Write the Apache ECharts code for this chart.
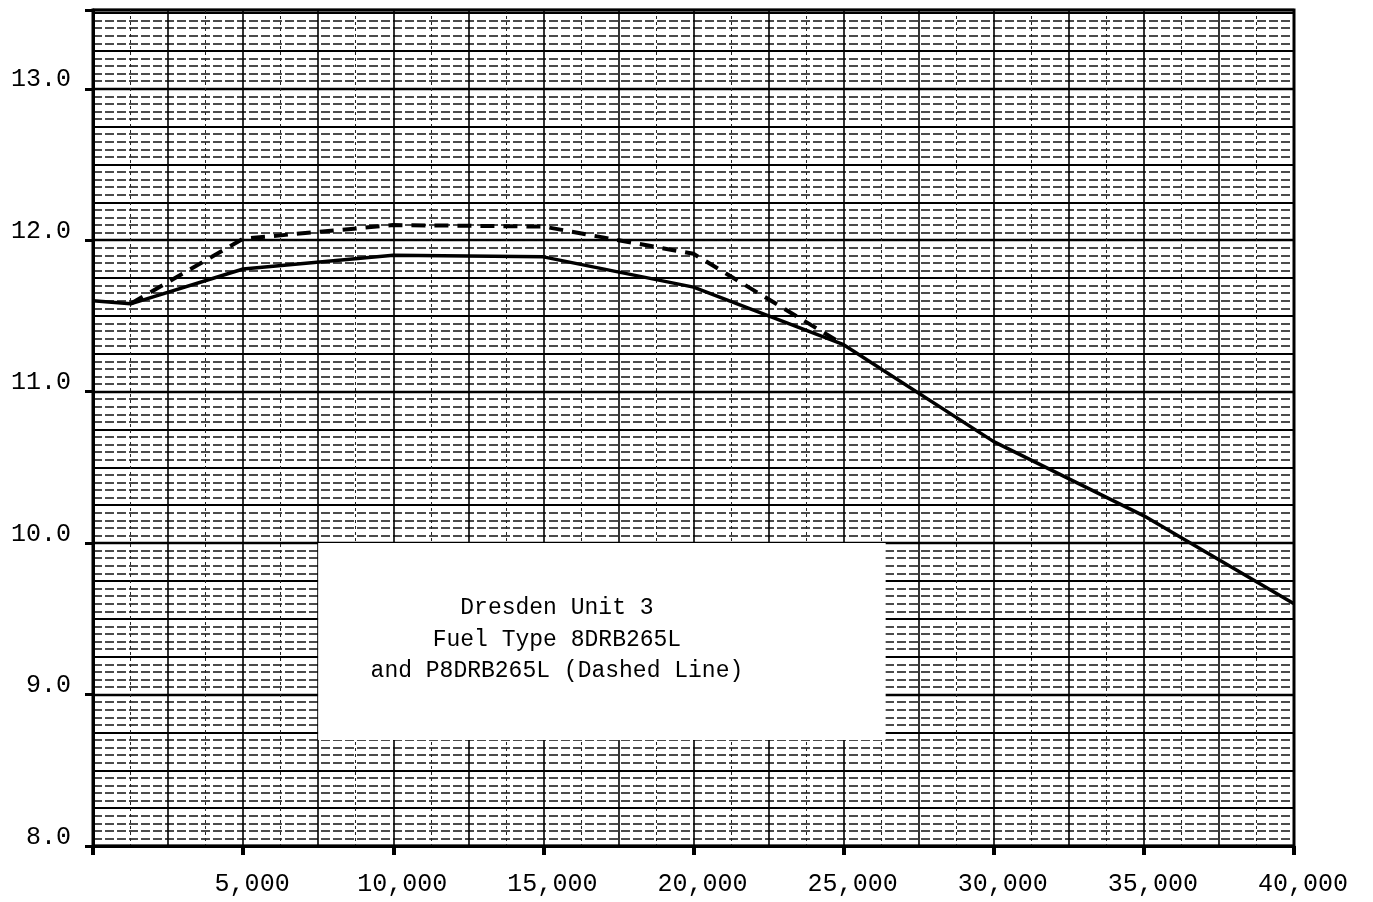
<!DOCTYPE html>
<html>
<head>
<meta charset="utf-8">
<script src="https://cdn.jsdelivr.net/npm/echarts@6/dist/echarts.min.js"></script>
<style>
  html, body { margin: 0; padding: 0; background: #fff; }
  #chart { width: 1373px; height: 902px; }
</style>
</head>
<body>
<div id="chart"></div>
<script>
// ---- data ----
const solidX = [0, 1250, 5000, 10000, 15000, 20000, 25000, 30000, 35000, 40000];
const solidY = [11.60, 11.58, 11.81, 11.90, 11.89, 11.69, 11.31, 10.67, 10.18, 9.60];
const dashedX = [1250, 5000, 10000, 15000, 20000, 25000];
const dashedY = [11.58, 12.01, 12.10, 12.09, 11.91, 11.31];
const xTickValues = [5000, 10000, 15000, 20000, 25000, 30000, 35000, 40000];
const yTickValues = [8, 9, 10, 11, 12, 13];
const noteLines = ['Dresden Unit 3', 'Fuel Type 8DRB265L', 'and P8DRB265L (Dashed Line)'];

// ---- layout / annotation settings ----
const X_MIN = 0, X_MAX = 40000;
const Y_MIN = 8, Y_MAX = 13.52;
const noteBox = { x0: 7500, x1: 26400, y0: 8.70, y1: 10.0 };
const MONO = '"Liberation Mono", "DejaVu Sans Mono", monospace';

const chart = echarts.init(document.getElementById('chart'), null, { renderer: 'canvas' });

function pairs(xs, ys) { return xs.map((x, i) => [x, ys[i]]); }

const option = {
  backgroundColor: '#fff',
  animation: false,
  grid: {
    left: 93, right: 79, top: 10, bottom: 56,
    containLabel: false,
    outerBoundsMode: 'none',
    show: true,
    borderColor: '#000',
    borderWidth: 3,
    backgroundColor: '#fff'
  },
  xAxis: [
    {
      type: 'value', min: X_MIN, max: X_MAX, interval: 5000,
      position: 'bottom',
      axisLine: { show: true, lineStyle: { color: '#000', width: 3 } },
      axisTick: { show: true, length: 9, lineStyle: { color: '#000', width: 4 } },
      axisLabel: {
        show: true, margin: 26, color: '#000', fontFamily: MONO, fontSize: 25,
        padding: [0, 0, 0, 18],
        formatter: v => xTickValues.indexOf(v) >= 0 ? v.toLocaleString('en-US') : ''
      },
      splitLine: { show: false }
    },
    {
      type: 'value', min: X_MIN, max: X_MAX, interval: 2500,
      position: 'bottom',
      axisLine: { show: false }, axisTick: { show: false }, axisLabel: { show: false },
      splitLine: { show: true, lineStyle: { color: '#000', width: 1.6 } },
      minorTick: { show: false, splitNumber: 2 },
      minorSplitLine: { show: true, lineStyle: { color: '#222', width: 1, type: [3, 3] } }
    }
  ],
  yAxis: [
    {
      type: 'value', min: Y_MIN, max: Y_MAX, interval: 1,
      axisLine: { show: true, lineStyle: { color: '#000', width: 3 } },
      axisTick: { show: true, length: 8, lineStyle: { color: '#000', width: 3 } },
      axisLabel: {
        show: true, margin: 22, color: '#000', fontFamily: MONO, fontSize: 25,
        verticalAlign: 'bottom', lineHeight: 18,
        formatter: v => yTickValues.indexOf(Math.round(v * 100) / 100) >= 0 ? v.toFixed(1) : ''
      },
      splitLine: { show: true, lineStyle: { color: '#000', width: 2.4 } }
    },
    {
      type: 'value', min: Y_MIN, max: Y_MAX, interval: 0.25,
      axisLine: { show: false }, axisTick: { show: false }, axisLabel: { show: false },
      splitLine: { show: true, lineStyle: { color: '#000', width: 1.8 } },
      minorTick: { show: false, splitNumber: 5 },
      minorSplitLine: { show: true, lineStyle: { color: '#111', width: 1.5, type: [9, 3] } }
    }
  ],
  series: [
    {
      name: '8DRB265L',
      type: 'line',
      xAxisIndex: 0, yAxisIndex: 0,
      data: pairs(solidX, solidY),
      symbol: 'none',
      z: 5,
      lineStyle: { color: '#000', width: 3.5, type: 'solid' },
      markArea: {
        silent: true,
        itemStyle: { color: '#ffffff', opacity: 1 },
        label: {
          show: true, position: 'inside',
          color: '#000', fontFamily: MONO, fontSize: 23, lineHeight: 31.5,
          align: 'center', offset: [-45, -2]
        },
        data: [
          [
            { name: noteLines.join('\n'), xAxis: noteBox.x0, yAxis: noteBox.y1 },
            { xAxis: noteBox.x1, yAxis: noteBox.y0 }
          ]
        ]
      }
    },
    {
      name: 'P8DRB265L',
      type: 'line',
      xAxisIndex: 0, yAxisIndex: 0,
      data: pairs(dashedX, dashedY),
      symbol: 'none',
      z: 5,
      lineStyle: { color: '#000', width: 4, type: [14, 9] }
    }
  ]
};

chart.setOption(option);
</script>
</body>
</html>
